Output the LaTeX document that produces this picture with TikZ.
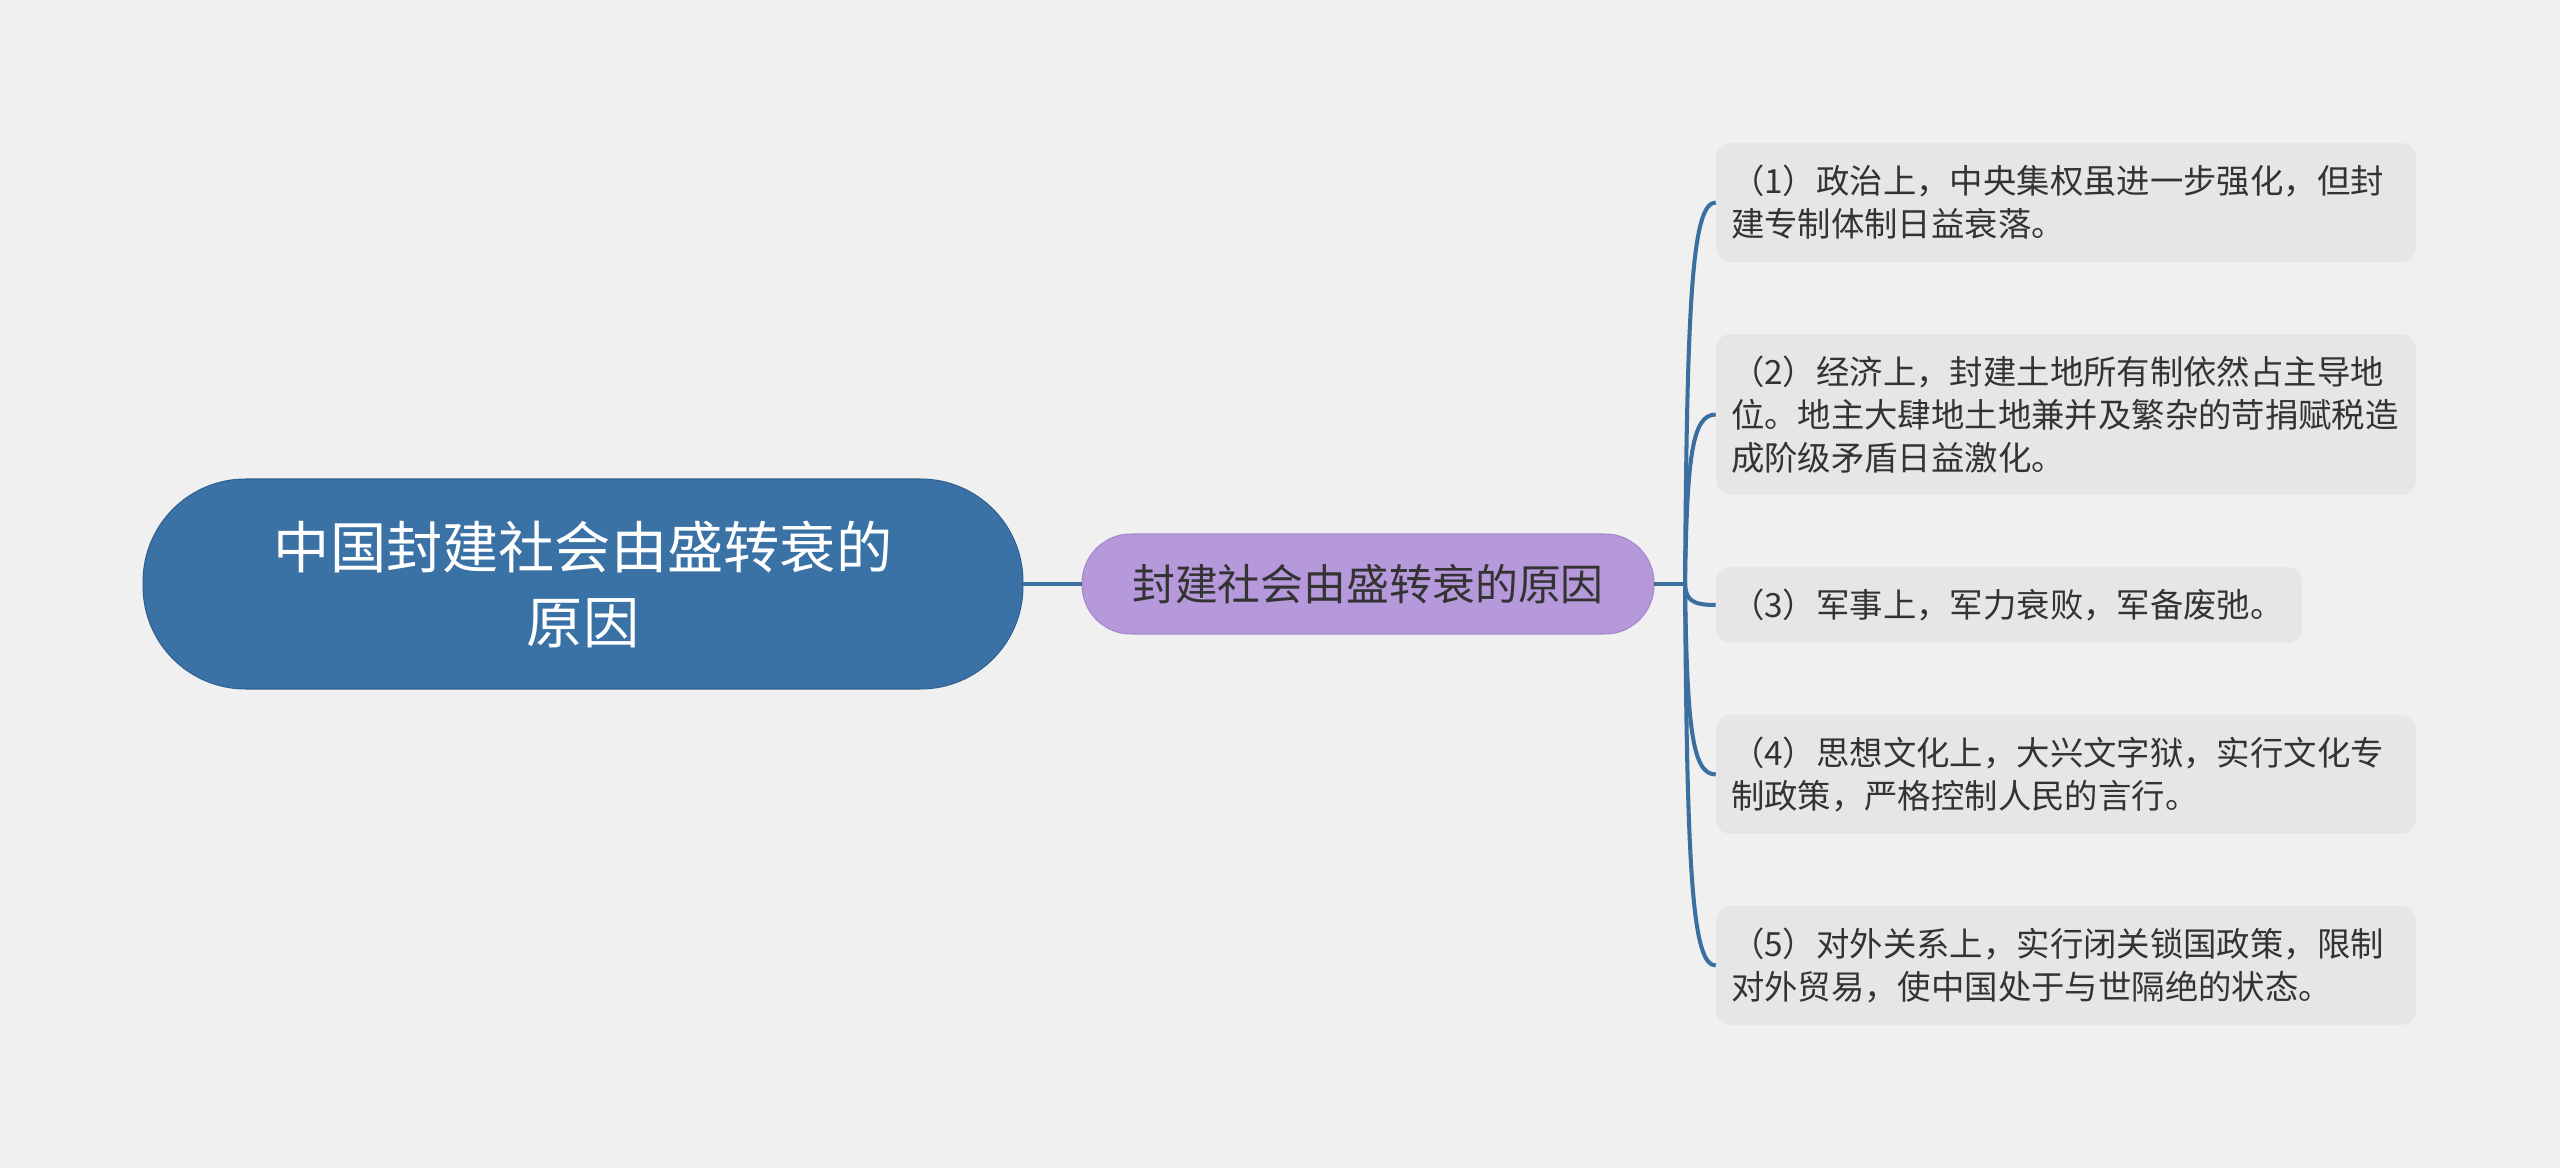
\documentclass[tikz,border=0pt]{standalone}
\usepackage{fontspec}
\setmainfont{Noto Sans CJK SC}
\definecolor{bgc}{HTML}{F0F0F0}
\definecolor{rootfill}{HTML}{3B72A5}
\definecolor{rootdraw}{HTML}{2F6190}
\definecolor{midfill}{HTML}{B699DA}
\definecolor{middraw}{HTML}{A487CB}
\definecolor{leaffill}{HTML}{E6E6E6}
\definecolor{linec}{HTML}{3A6FA0}
\definecolor{txt}{HTML}{333333}
\tikzset{
  rootbox/.style={draw=rootdraw, line width=0.6pt, fill=rootfill, text=white,
    rounded corners=2.05cm, minimum width=17.6cm, minimum height=4.2cm,
    align=center, inner sep=0pt,
    font=\fontsize{32pt}{42.7pt}\selectfont},
  midbox/.style={draw=middraw, line width=0.6pt, fill=midfill, text=txt,
    rounded corners=0.98cm, minimum width=11.44cm, minimum height=2cm,
    inner sep=0pt, font=\fontsize{24.4pt}{30pt}\selectfont},
  leafbox/.style={fill=leaffill, text=txt, rounded corners=0.3cm,
    inner xsep=0.3cm, inner ysep=0pt, align=left,
    font=\fontsize{19pt}{24.5pt}\selectfont},
  conn/.style={draw=linec, line width=2.3pt},
}
\begin{document}
\begin{tikzpicture}[x=0.02cm,y=-0.02cm]
\fill[bgc] (0,0) rectangle (2560,1168);
\useasboundingbox (0,0) rectangle (2560,1168);

\node[rootbox] (root) at (583,584) {中国封建社会由盛转衰的\\原因};
\node[midbox] (mid) at (1368,584) {封建社会由盛转衰的原因};

\node[leafbox, text width=13.4cm, minimum height=2.38cm] (c1) at (2066,202.5)
  {（1）政治上，中央集权虽进一步强化，但封\\建专制体制日益衰落。};
\node[leafbox, text width=13.4cm, minimum height=3.22cm] (c2) at (2066,414.5)
  {（2）经济上，封建土地所有制依然占主导地\\位。地主大肆地土地兼并及繁杂的苛捐赋税造\\成阶级矛盾日益激化。};
\node[leafbox, text width=11.12cm, minimum height=1.52cm] (c3) at (2009,605)
  {（3）军事上，军力衰败，军备废弛。};
\node[leafbox, text width=13.4cm, minimum height=2.38cm] (c4) at (2066,774.5)
  {（4）思想文化上，大兴文字狱，实行文化专\\制政策，严格控制人民的言行。};
\node[leafbox, text width=13.4cm, minimum height=2.38cm] (c5) at (2066,965.5)
  {（5）对外关系上，实行闭关锁国政策，限制\\对外贸易，使中国处于与世隔绝的状态。};

\coordinate (hub) at (1685,584);

\draw[conn] (root.east) -- (mid.west);
\draw[conn] (mid.east) -- (hub);
\draw[conn] (hub) .. controls (1687,300) and (1692,202.5) .. (c1.west);
\draw[conn] (hub) .. controls (1687,457) and (1692,414.5) .. (c2.west);
\draw[conn] (hub) .. controls (1686,600) and (1692,605) .. (c3.west);
\draw[conn] (hub) .. controls (1687,727) and (1692,774.5) .. (c4.west);
\draw[conn] (hub) .. controls (1687,870) and (1692,965.5) .. (c5.west);
\end{tikzpicture}
\end{document}
